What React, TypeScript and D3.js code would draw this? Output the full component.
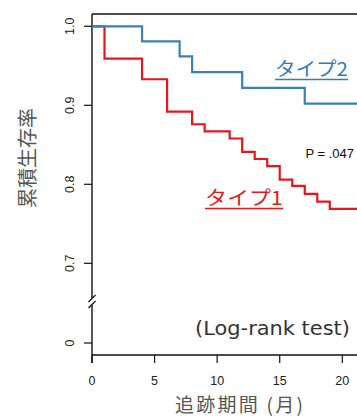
import React from "react";
import * as d3 from "d3";

// Kaplan–Meier step data (month, survival)
const type1Times = [0, 1, 4, 6, 8, 9, 11, 12, 13, 14, 15, 16, 17, 18, 19, 21.6];
const type1Surv = [1.0, 0.959, 0.933, 0.892, 0.876, 0.867, 0.858, 0.841, 0.832, 0.823, 0.806, 0.798, 0.788, 0.778, 0.769, 0.769];
const type2Times = [0, 4, 7, 8, 12, 17, 21.6];
const type2Surv = [1.0, 0.981, 0.962, 0.942, 0.922, 0.902, 0.902];

const xTicks = [0, 5, 10, 15, 20];
const yTicks = [0, 0.7, 0.8, 0.9, 1.0];
const yTickLabels = ["0", "0.7", "0.8", "0.9", "1.0"];

const series = [
  { name: "タイプ1", times: type1Times, surv: type1Surv, color: "#e8161b" },
  { name: "タイプ2", times: type2Times, surv: type2Surv, color: "#3a80c1" },
];

export default function App() {
  const W = 357, H = 416;
  const x = d3.scaleLinear().domain([0, 20]).range([92, 342.3]);
  const y = d3.scaleLinear().domain([0, 0.7, 1.0]).range([343, 263.3, 26.3]);
  const line = d3
    .line<[number, number]>()
    .x((d) => x(d[0]))
    .y((d) => y(d[1]))
    .curve(d3.curveStepAfter);

  const axisColor = "#111";
  const jpFont = "'Noto Sans CJK JP', sans-serif";
  const latFont = "'Liberation Sans', Arial, sans-serif";
  const axisX = x(0);
  const xAxisY = 355;

  return (
    <svg width={W} height={H} style={{ position: "absolute", left: 0, top: 0, background: "#fff" }}>
      {/* top border */}
      <line x1={axisX} x2={W} y1={14} y2={14} stroke={axisColor} strokeWidth={1.4} />
      {/* left axis with break */}
      <line x1={axisX} x2={axisX} y1={14} y2={298} stroke={axisColor} strokeWidth={1.4} />
      <line x1={axisX} x2={axisX} y1={305} y2={xAxisY + 8} stroke={axisColor} strokeWidth={1.4} />
      <line x1={axisX - 3.5} x2={axisX + 3.5} y1={302} y2={295} stroke={axisColor} strokeWidth={1.3} />
      <line x1={axisX - 3.5} x2={axisX + 3.5} y1={308} y2={301} stroke={axisColor} strokeWidth={1.3} />
      {/* bottom axis */}
      <line x1={axisX} x2={W} y1={xAxisY} y2={xAxisY} stroke={axisColor} strokeWidth={1.4} />
      {xTicks.map((t) => (
        <g key={"xt" + t}>
          <line x1={x(t)} x2={x(t)} y1={xAxisY} y2={xAxisY + 8} stroke={axisColor} strokeWidth={1.2} />
          <text x={x(t)} y={385} textAnchor="middle" fontFamily={latFont} fontSize={12.5} fill="#222">
            {t}
          </text>
        </g>
      ))}
      {yTicks.map((t, i) => (
        <g key={"yt" + t}>
          <line x1={axisX - 8} x2={axisX} y1={y(t)} y2={y(t)} stroke={axisColor} strokeWidth={1.2} />
          <text
            transform={`translate(74, ${y(t)}) rotate(-90)`}
            textAnchor="middle"
            fontFamily={latFont}
            fontSize={12.5}
            fill="#222"
          >
            {yTickLabels[i]}
          </text>
        </g>
      ))}
      {/* curves */}
      {series.map((s) => (
        <path
          key={s.name}
          d={line(s.times.map((t, i) => [t, s.surv[i]] as [number, number])) || ""}
          fill="none"
          stroke={s.color}
          strokeWidth={2.2}
        />
      ))}
      {/* labels */}
      <text x={275} y={75.5} fontFamily={jpFont} fontSize={19} fill="#2f7cc0" textLength={73} lengthAdjust="spacingAndGlyphs">
        タイプ2
      </text>
      <line x1={275} x2={348} y1={79.5} y2={79.5} stroke="#2f7cc0" strokeWidth={1.3} />
      <text x={205} y={204.5} fontFamily={jpFont} fontSize={19} fill="#e8161b" textLength={78} lengthAdjust="spacingAndGlyphs">
        タイプ1
      </text>
      <line x1={205} x2={283} y1={208.5} y2={208.5} stroke="#e8161b" strokeWidth={1.3} />
      <text x={354} y={157.5} textAnchor="end" fontFamily={latFont} fontSize={13} fill="#111">
        P = .047
      </text>
      <text x={195} y={335} fontFamily="'DejaVu Sans', sans-serif" fontSize={20} fill="#333" textLength={155} lengthAdjust="spacingAndGlyphs">
        (Log-rank test)
      </text>
      {/* axis titles */}
      <text
        transform="translate(35, 158) rotate(-90)"
        textAnchor="middle"
        fontFamily={jpFont}
        fontSize={20}
        fill="#555"
      >
        累積生存率
      </text>
      <text x={175} y={412} fontFamily={jpFont} fontSize={19} fill="#555" textLength={128} lengthAdjust="spacing">
        追跡期間 (月)
      </text>
    </svg>
  );
}
